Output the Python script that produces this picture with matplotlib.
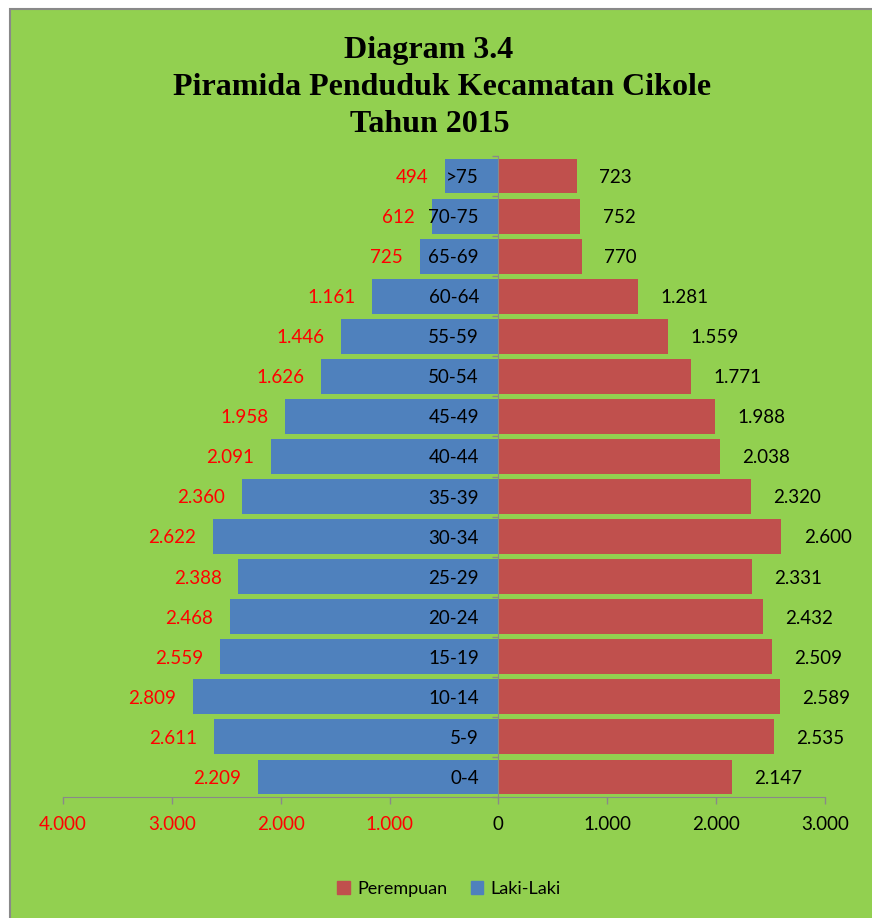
import matplotlib
matplotlib.use("Agg")
import matplotlib.pyplot as plt
from matplotlib.patches import Rectangle
import numpy as np

# data (bottom to top)
kelompok_umur = ['0-4', '5-9', '10-14', '15-19', '20-24', '25-29', '30-34', '35-39',
                 '40-44', '45-49', '50-54', '55-59', '60-64', '65-69', '70-75', '>75']
laki_laki = [2209, 2611, 2809, 2559, 2468, 2388, 2622, 2360,
             2091, 1958, 1626, 1446, 1161, 725, 612, 494]
perempuan = [2147, 2535, 2589, 2509, 2432, 2331, 2600, 2320,
             2038, 1988, 1771, 1559, 1281, 770, 752, 723]
x_ticks = [-4000, -3000, -2000, -1000, 0, 1000, 2000, 3000]

GREEN = '#92D050'
BLUE = '#4F81BD'
RED = '#C0504D'
GRAY = '#898989'

plt.rcParams['font.family'] = ['Lato', 'DejaVu Sans']

W, H = 872, 918
fig = plt.figure(figsize=(W / 100, H / 100), dpi=100, facecolor='white')

# green chart area with grey border (top/left only visible)
fig.patches.append(Rectangle((10 / W, -0.05), 1.2, 1 - 9 / H + 0.05,
                             transform=fig.transFigure, facecolor=GREEN,
                             edgecolor=GRAY, linewidth=1.5, zorder=-1))

def fnum(v):
    return f'{abs(int(v)):,}'.replace(',', '.')

# title, three lines
title_lines = [('Diagram 3.4', 429, 58),
               ('Piramida Penduduk Kecamatan Cikole', 442, 95),
               ('Tahun 2015', 430, 132)]
for txt, xc, yb in title_lines:
    fig.text(xc / W, 1 - yb / H, txt, ha='center', va='baseline',
             family='Liberation Serif', weight='bold', fontsize=23)

ax = fig.add_axes([63 / W, 1 - 797 / H, 762 / W, 641 / H])
ax.patch.set_visible(False)

# spines first (set_position resets the tick styling)
for s in ['top', 'right']:
    ax.spines[s].set_visible(False)
ax.spines['left'].set_position(('data', 0))
ax.spines['left'].set_color(GRAY)
ax.spines['bottom'].set_color(GRAY)
ax.spines['left'].set_zorder(3)

y = np.arange(len(kelompok_umur))
neg = [-v for v in laki_laki]
ax.barh(y, neg, height=0.87, color=BLUE, zorder=1)
ax.barh(y, perempuan, height=0.87, color=RED, zorder=1)

for i in y:
    ax.annotate(fnum(laki_laki[i]), xy=(neg[i], i), xytext=(-12, -1),
                textcoords='offset points', ha='right', va='center',
                color='#FF0000', fontsize=13.5)
    ax.annotate(fnum(perempuan[i]), xy=(perempuan[i], i), xytext=(16, -1),
                textcoords='offset points', ha='left', va='center',
                color='black', fontsize=13.5)

ax.set_xlim(-4000, 3000)
ax.set_ylim(-0.5, len(kelompok_umur) - 0.5)

ax.set_xticks(x_ticks)
ax.set_xticklabels([fnum(v) for v in x_ticks], fontsize=13.5)
for v, lbl in zip(x_ticks, ax.get_xticklabels()):
    lbl.set_color('#FF0000' if v < 0 else 'black')
ax.tick_params(axis='x', direction='out', length=5, width=1, color=GRAY, pad=9)

ax.set_yticks(y)
ax.set_yticklabels(kelompok_umur, fontsize=13.5)
ax.set_yticks(np.arange(-0.5, len(kelompok_umur)), minor=True)
ax.tick_params(axis='y', which='major', length=0, pad=14)
ax.tick_params(axis='y', which='minor', direction='out', length=4, width=1, color=GRAY)

h_red = Rectangle((0, 0), 1, 1, color=RED)
h_blue = Rectangle((0, 0), 1, 1, color=BLUE)
fig.legend([h_red, h_blue], ['Perempuan', 'Laki-Laki'], loc='center',
           bbox_to_anchor=(449 / W, 29 / H), ncol=2, frameon=False,
           fontsize=13, handlelength=0.7, handleheight=0.7,
           handletextpad=0.4, columnspacing=1.3)

fig.savefig('out.png', dpi=100, facecolor=fig.get_facecolor())
